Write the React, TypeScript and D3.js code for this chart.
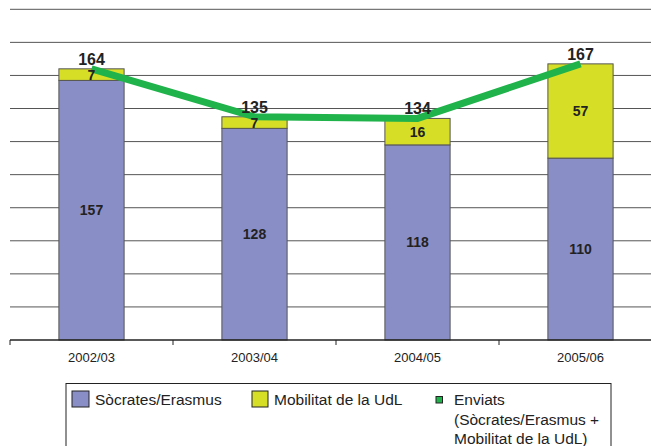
import { scaleBand, scaleLinear, line, range } from "d3";

const categories = ["2002/03", "2003/04", "2004/05", "2005/06"];
const socrates = [157, 128, 118, 110];
const mobilitat = [7, 7, 16, 57];
const enviats = [164, 135, 134, 167];

const W = 651;
const H = 446;
const PURPLE = "#8a8ec6";
const YELLOW = "#d6df26";
const GREEN = "#20b34b";
const FONT = "'Liberation Sans', Arial, sans-serif";

function App() {
  const x = scaleBand<string>()
    .domain(categories)
    .range([10, 662])
    .paddingInner(0.6)
    .paddingOuter(0.3);
  const step = x.step();
  const y = scaleLinear().domain([0, 200]).range([340, 9.3]);
  const grid = range(20, 201, 20);
  const cx = (c: string) => (x(c) as number) + x.bandwidth() / 2;

  const pathLine = line<number>()
    .x((_, i) => cx(categories[i]))
    .y((d) => y(d));

  return (
    <svg
      width={W}
      height={H}
      style={{ position: "absolute", left: 0, top: 0, background: "#fff" }}
      fontFamily={FONT}
    >
      {grid.map((g) => (
        <line key={g} x1={10} x2={W} y1={y(g)} y2={y(g)} stroke="#555" strokeWidth={1} />
      ))}

      {categories.map((c, i) => {
        const x0 = x(c) as number;
        const bw = x.bandwidth();
        const yTop = y(socrates[i]);
        const yTot = y(socrates[i] + mobilitat[i]);
        return (
          <g key={c}>
            <rect x={x0} y={yTop} width={bw} height={y(0) - yTop} fill={PURPLE} stroke="#555" strokeWidth={1} />
            <rect x={x0} y={yTot} width={bw} height={yTop - yTot} fill={YELLOW} stroke="#555" strokeWidth={1} />
          </g>
        );
      })}

      <line x1={10} x2={W} y1={340} y2={340} stroke="#222" strokeWidth={1.5} />
      {range(categories.length + 1).map((i) => (
        <line key={i} x1={10 + i * step} x2={10 + i * step} y1={340} y2={345} stroke="#222" strokeWidth={1} />
      ))}

      <path d={pathLine(enviats) || ""} fill="none" stroke={GREEN} strokeWidth={7} />

      {categories.map((c, i) => {
        const yTop = y(socrates[i]);
        const yTot = y(socrates[i] + mobilitat[i]);
        return (
          <g key={c} fill="#222" fontWeight="bold" textAnchor="middle">
            <text x={cx(c)} y={(yTop + y(0)) / 2 + 5} fontSize={14}>{socrates[i]}</text>
            <text x={cx(c)} y={(yTop + yTot) / 2 + 5} fontSize={14}>{mobilitat[i]}</text>
            <text x={cx(c)} y={y(enviats[i]) - 4} fontSize={16}>{enviats[i]}</text>
            <text x={cx(c)} y={362} fontSize={13} fontWeight="normal">{c}</text>
          </g>
        );
      })}

      <g fontSize={15.5} fill="#222">
        <rect x={66} y={383.5} width={545} height={80} fill="#fff" stroke="#222" strokeWidth={1} />
        <rect x={72} y={391} width={17} height={16} fill={PURPLE} stroke="#222" strokeWidth={1} />
        <text x={95} y={405}>Sòcrates/Erasmus</text>
        <rect x={252} y={391} width={16} height={16} fill={YELLOW} stroke="#222" strokeWidth={1} />
        <text x={274} y={405}>Mobilitat de la UdL</text>
        <rect x={436} y={396.5} width={6.5} height={6.5} fill={GREEN} stroke="#222" strokeWidth={1} />
        <text x={454} y={405}>Enviats</text>
        <text x={454} y={424.5}>(Sòcrates/Erasmus +</text>
        <text x={454} y={444}>Mobilitat de la UdL)</text>
      </g>
    </svg>
  );
}

export default App;
